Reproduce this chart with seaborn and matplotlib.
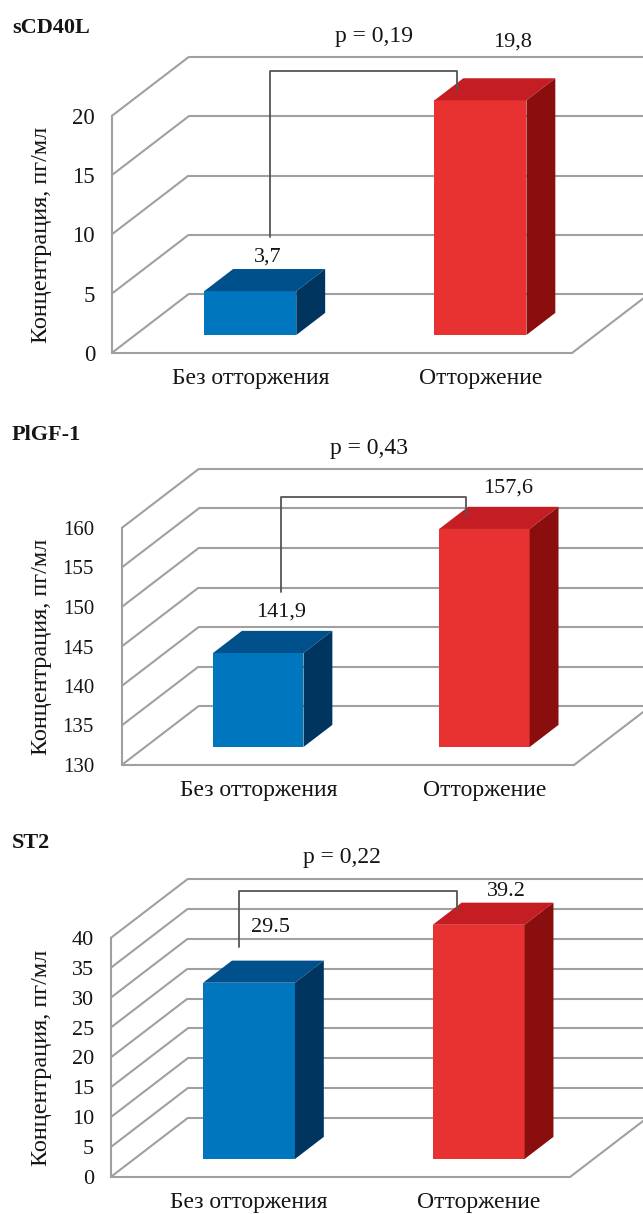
import matplotlib
matplotlib.use("Agg")
import matplotlib.pyplot as plt
from matplotlib.patches import Polygon
import pandas as pd
import seaborn as sns

# ---------------- data ----------------
categories = ["Без отторжения", "Отторжение"]
panel_titles = ["sCD40L", "PlGF-1", "ST2"]
values_scd40l = [3.7, 19.8]
values_plgf1 = [141.9, 157.6]
values_st2 = [29.5, 39.2]
value_labels_scd40l = ["3,7", "19,8"]
value_labels_plgf1 = ["141,9", "157,6"]
value_labels_st2 = ["29.5", "39.2"]
p_labels = ["p = 0,19", "p = 0,43", "p = 0,22"]
yticks_scd40l = [0, 5, 10, 15, 20]
yticks_plgf1 = [130, 135, 140, 145, 150, 155, 160]
yticks_st2 = [0, 5, 10, 15, 20, 25, 30, 35, 40]
y_label = "Концентрация, пг/мл"

# ---------------- layout / style ----------------
W, H, DPI = 643, 1214, 100
DX, DY = 77.0, 59.0          # 3D depth offset in pixels
T1, T2 = 0.305, 0.68         # bar front / back depth fractions
BAR_W = 0.4
# front plane box per panel in px: left, right, y(px) at min tick, y(px) at max tick
frames = [(111.7, 572.0, 353.0, 116.0),
          (121.7, 574.0, 765.0, 528.0),
          (110.7, 570.0, 1177.0, 938.0)]
tick_size = [16.5, 15, 16]
tick_pad = [12, 20, 12]
title_y = [28, 435, 843]
# bracket: x_left, x_right, y_left_end, y_top, y_right_end (data coords)
brackets = [(0.188, 1.000, 9.8, 23.8, 22.2),
            (0.204, 1.022, 151.9, 163.9, 161.6),
            (0.059, 1.008, 38.5, 47.9, 44.7)]
p_pos = [(0.64, 26.7), (0.593, 170.1), (0.507, 53.4)]
vlabel_pos = [[(0.179, 8.1), (1.243, 26.2)],
              [(0.204, 149.4), (1.208, 165.1)],
              [(0.194, 41.8), (1.221, 47.7)]]

front_cols = ["#0076be", "#e83232"]
top_cols = ["#00508c", "#c41e24"]
side_cols = ["#00355f", "#8a0e0e"]
GRID = "#a0a0a0"
TXT = "#151515"

sns.set_theme(style="white")
plt.rcParams["font.family"] = ["Liberation Serif", "DejaVu Serif"]
plt.rcParams["text.color"] = TXT

fig = plt.figure(figsize=(W / DPI, H / DPI), dpi=DPI)
fig.patch.set_facecolor("white")

panels = [(values_scd40l, value_labels_scd40l, yticks_scd40l),
          (values_plgf1, value_labels_plgf1, yticks_plgf1),
          (values_st2, value_labels_st2, yticks_st2)]

for k, (vals, vlabels, yt) in enumerate(panels):
    L, R, B, Tt = frames[k]
    ymin, ymax = yt[0], yt[-1]
    sx = (R - L) / 2.0
    ppv = (B - Tt) / (ymax - ymin)
    dxd, dyd = DX / sx, DY / ppv
    top_px = Tt - DY
    axw, axh = R + DX - L, B - top_px
    ax = fig.add_axes([L / W, 1 - B / H, axw / W, axh / H])
    ax.set_facecolor("none")

    df = pd.DataFrame({"cat": categories, "val": vals})
    sns.barplot(data=df, x="cat", y="val", hue="cat", palette=front_cols,
                width=BAR_W, saturation=1, legend=False, ax=ax,
                linewidth=0, zorder=3)
    bars = list(ax.patches)
    centers = []
    for i, p in enumerate(bars):
        x0 = p.get_x() + T1 * dxd
        top = p.get_height() + T1 * dyd
        bottom = ymin + T1 * dyd
        w = p.get_width()
        p.set_x(x0)
        p.set_y(bottom)
        p.set_height(top - bottom)
        bdx, bdy = (T2 - T1) * dxd, (T2 - T1) * dyd
        ax.add_patch(Polygon([(x0, top), (x0 + w, top), (x0 + w + bdx, top + bdy),
                              (x0 + bdx, top + bdy)], closed=True,
                             facecolor=top_cols[i], edgecolor="none", zorder=3))
        ax.add_patch(Polygon([(x0 + w, bottom), (x0 + w + bdx, bottom + bdy),
                              (x0 + w + bdx, top + bdy), (x0 + w, top)], closed=True,
                             facecolor=side_cols[i], edgecolor="none", zorder=3))
        centers.append(x0 + w / 2)

    # walls and floor
    lw = 1.5
    for v in yt:
        ax.plot([-0.5, -0.5 + dxd], [v, v + dyd], color=GRID, lw=lw,
                clip_on=False, zorder=1, solid_capstyle="butt")
        ax.plot([-0.5 + dxd, 1.5 + dxd], [v + dyd, v + dyd], color=GRID, lw=lw,
                clip_on=False, zorder=1)
    ax.plot([-0.5, 1.5], [ymin, ymin], color=GRID, lw=lw, clip_on=False, zorder=1)
    ax.plot([1.5, 1.5 + dxd], [ymin, ymin + dyd], color=GRID, lw=lw,
            clip_on=False, zorder=1)

    ax.set_xlim(-0.5, 1.5 + dxd)
    ax.set_ylim(ymin, ymax + dyd)
    for s in ["top", "right", "bottom"]:
        ax.spines[s].set_visible(False)
    ax.spines["left"].set_color(GRID)
    ax.spines["left"].set_linewidth(lw)
    ax.spines["left"].set_bounds(ymin, ymax)
    ax.set_yticks(yt)
    ax.set_yticklabels([str(v) for v in yt])
    ax.set_xticks(centers)
    ax.set_xticklabels(categories)
    ax.tick_params(axis="y", length=0, pad=tick_pad[k], labelsize=tick_size[k],
                   labelcolor=TXT)
    ax.tick_params(axis="x", length=0, pad=11, labelsize=17, labelcolor=TXT)
    ax.set_xlabel("")
    ax.set_ylabel(y_label, fontsize=17.5, color=TXT)
    ax.yaxis.set_label_coords((52 - L) / axw, (B - (B + Tt) / 2) / axh)
    ax.grid(False)

    # bracket
    xl, xr, yl, ytop, yr = brackets[k]
    ax.plot([xl, xl, xr, xr], [yl, ytop, ytop, yr], color="#555555", lw=1.3,
            zorder=5, clip_on=False)
    ax.text(p_pos[k][0], p_pos[k][1], p_labels[k], ha="center", va="center",
            fontsize=17, zorder=6)
    for (tx, ty), s in zip(vlabel_pos[k], vlabels):
        ax.text(tx, ty, s, ha="center", va="center", fontsize=16, zorder=6)

    fig.text(12 / W, 1 - title_y[k] / H, panel_titles[k], fontsize=16,
             fontweight="bold", ha="left", va="center")

fig.savefig("out.png", dpi=DPI, facecolor="white")
